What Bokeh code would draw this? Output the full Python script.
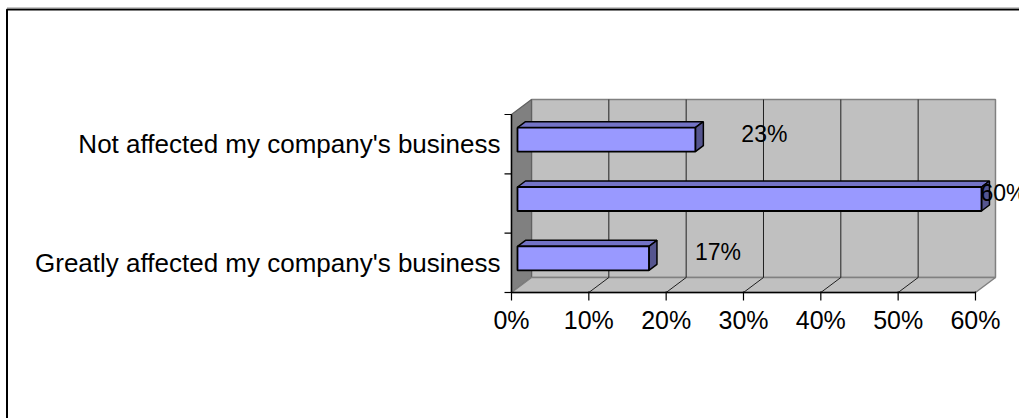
from bokeh.plotting import figure
from bokeh.models import Range1d
from bokeh.embed import file_html
from bokeh.resources import INLINE
from bokeh.core.properties import value

# ---------------- data ----------------
categories = ["Greatly affected my company's business", "", "Not affected my company's business"]
values = [17, 60, 23]
data_labels = ["17%", "60%", "23%"]
x_ticks = [0, 10, 20, 30, 40, 50, 60]
x_tick_labels = ["0%", "10%", "20%", "30%", "40%", "50%", "60%"]

# ---------------- layout constants ----------------
W, H = 1019, 418
PX_PER_PCT = 7.733      # pixels per percent on the front plane
PX_PER_CAT = 59.33      # pixels per category band
ORIGIN_X = 511          # pixel of 0% (front)
ORIGIN_Y = 292          # pixel of floor front edge (from top)
FONT = value("Liberation Sans")


def px_x(px):
    return (px - ORIGIN_X) / PX_PER_PCT


def px_y(py):
    return (ORIGIN_Y - py) / PX_PER_CAT


DX = 20 / PX_PER_PCT    # 3D depth offset (x)
DY = 15 / PX_PER_CAT    # 3D depth offset (y)
F0, F1 = 0.3, 0.7       # bar depth position (front / back fraction)
HALF_BAR = 12 / PX_PER_CAT

p = figure(width=W, height=H, output_backend="svg", toolbar_location=None,
           x_range=Range1d(px_x(0), px_x(W)), y_range=Range1d(px_y(H), px_y(0)),
           x_axis_location=None, y_axis_location=None, min_border=0)
p.grid.visible = False
p.outline_line_color = None
p.background_fill_color = "white"
p.border_fill_color = "white"

n = len(categories)
x_max = x_ticks[-1]

# back wall
p.patch([DX, x_max + DX, x_max + DX, DX], [DY, DY, n + DY, n + DY],
        fill_color="#c0c0c0", line_color="#808080", line_width=1.5)
# side wall
p.patch([0, DX, DX, 0], [0, DY, n + DY, n],
        fill_color="#808080", line_color="#606060", line_width=1.2)
# floor
p.patch([0, x_max, x_max + DX, DX], [0, 0, DY, DY],
        fill_color="#c0c0c0", line_color="#808080", line_width=1.5)

inner = x_ticks[1:-1]
# back wall gridlines
p.segment(x0=[t + DX for t in inner], y0=[DY] * len(inner),
          x1=[t + DX for t in inner], y1=[n + DY] * len(inner),
          line_color="#202020", line_width=1)
# floor gridlines
p.segment(x0=inner, y0=[0] * len(inner),
          x1=[t + DX for t in inner], y1=[DY] * len(inner),
          line_color="#202020", line_width=1)

# value axis line and ticks
p.segment(x0=[0], y0=[0], x1=[x_max], y1=[0], line_color="black", line_width=1.5)
p.segment(x0=x_ticks, y0=[px_y(291)] * len(x_ticks),
          x1=x_ticks, y1=[px_y(300)] * len(x_ticks), line_color="black", line_width=1.2)
# category axis line and ticks
p.segment(x0=[0], y0=[0], x1=[0], y1=[n], line_color="black", line_width=1.5)
cat_edges = list(range(n + 1))
p.segment(x0=[px_x(504)] * len(cat_edges), y0=cat_edges,
          x1=[0] * len(cat_edges), y1=cat_edges, line_color="black", line_width=1.2)

# bars (3D boxes)
front_l, front_r, front_b, front_t = [], [], [], []
top_xs, top_ys, side_xs, side_ys = [], [], [], []
dd_x = (F1 - F0) * DX
dd_y = (F1 - F0) * DY
for i, v in enumerate(values):
    xa = F0 * DX
    xb = v + F0 * DX
    yc = i + 0.5 + F0 * DY
    yb, yt = yc - HALF_BAR, yc + HALF_BAR
    front_l.append(xa); front_r.append(xb); front_b.append(yb); front_t.append(yt)
    top_xs.append([xa, xb, xb + dd_x, xa + dd_x])
    top_ys.append([yt, yt, yt + dd_y, yt + dd_y])
    side_xs.append([xb, xb + dd_x, xb + dd_x, xb])
    side_ys.append([yb, yb + dd_y, yt + dd_y, yt])

p.patches(top_xs, top_ys, fill_color="#7373c6", line_color="black", line_width=1.5)
p.patches(side_xs, side_ys, fill_color="#55558f", line_color="black", line_width=1.5)
p.quad(left=front_l, right=front_r, bottom=front_b, top=front_t,
       fill_color="#9999ff", line_color="black", line_width=1.8)

# data labels
LABEL_GAP = 9.7
LABEL_XMAX = px_x(1003)
p.text(x=[min(v + LABEL_GAP, LABEL_XMAX) for v in values],
       y=[i + 0.5 + F1 * DY for i in range(n)], text=data_labels,
       text_font=FONT, text_font_size="23px", text_align="center",
       text_baseline="middle", text_color="black")

# category labels
p.text(x=[px_x(500)] * n, y=[i + 0.5 for i in range(n)], text=categories,
       text_font=FONT, text_font_size="26px", text_align="right",
       text_baseline="middle", text_color="black")

# tick labels
p.text(x=x_ticks, y=[px_y(319.5)] * len(x_ticks), text=x_tick_labels,
       text_font=FONT, text_font_size="25px", text_align="center",
       text_baseline="middle", text_color="black")

# outer chart border (extends past the window on right and bottom)
p.quad(left=[px_x(6.5)], right=[px_x(W + 20)], top=[px_y(9)], bottom=[px_y(H + 20)],
       fill_color=None, line_color="black", line_width=2)
p.segment(x0=[px_x(6.5)], y0=[px_y(7.5)], x1=[px_x(W + 20)], y1=[px_y(7.5)],
          line_color="#909090", line_width=1)

open("out.html", "w").write(file_html(p, INLINE))
